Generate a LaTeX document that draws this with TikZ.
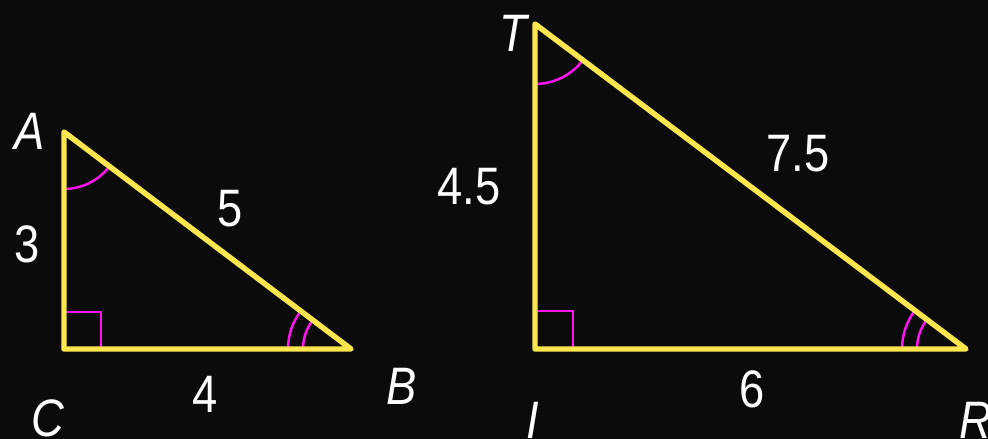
\documentclass[tikz,border=0pt]{standalone}
\usepackage{fontspec}
\setmainfont{Liberation Sans}[FakeStretch=0.86]
\usetikzlibrary{angles,calc}
\definecolor{bgc}{HTML}{0B0B0B}
\definecolor{triy}{HTML}{FBE64E}
\definecolor{magc}{HTML}{FF14F0}
\tikzset{
  side/.style={draw=triy, line width=3.1pt, line join=round, line cap=round},
  rtmark/.style={draw=magc, line width=1.4pt},
  angmark/.style={draw=magc, line width=1.4pt},
  lbl/.style={text=white, anchor=base, inner sep=0pt, font=\fontsize{30}{36}\selectfont},
  vlbl/.style={lbl, font=\fontsize{30}{36}\selectfont\itshape}
}
\begin{document}
\begin{tikzpicture}[x=0.02cm, y=0.02cm]
\fill[bgc] (0,0) rectangle (988,439);
\useasboundingbox (0,0) rectangle (988,439);
% triangle ABC
\coordinate (A) at (64,307);
\coordinate (C) at (64,90);
\coordinate (B) at (351,90);
% triangle TIR
\coordinate (T) at (535,415);
\coordinate (I) at (535,90);
\coordinate (R) at (966,90);
% angle marks
\pic[angmark, angle radius=1.14cm] {angle=C--A--B};
\pic[angmark, angle radius=1.26cm] {angle=A--B--C};
\pic[angmark, angle radius=0.96cm] {angle=A--B--C};
\draw[rtmark] ($(C)+(0,37)$) -| ($(C)+(37,0)$);
\pic[angmark, angle radius=1.2cm] {angle=I--T--R};
\pic[angmark, angle radius=1.28cm] {angle=T--R--I};
\pic[angmark, angle radius=0.98cm] {angle=T--R--I};
\draw[rtmark] ($(I)+(0,38)$) -| ($(I)+(38,0)$);
% sides
\draw[side] (A) -- (C) -- (B) -- cycle;
\draw[side] (T) -- (I) -- (R) -- cycle;
% labels
\node[vlbl] (lA) at (30,289) {A};
\node[vlbl] (lC) at (48,2) {C};
\node[vlbl] (lB) at (402,34) {B};
\node[lbl] (l3) at (27,176) {3};
\node[lbl] (l5) at (230,212) {5};
\node[lbl] (l4) at (205,26) {4};
\node[vlbl] (lT) at (513,387) {T};
\node[vlbl] (lI) at (533,0) {I};
\node[vlbl] (lR) at (976,0) {R};
\node[lbl] (l45) at (469,234) {4.5};
\node[lbl] (l75) at (798,267) {7.5};
\node[lbl] (l6) at (752,31) {6};
\end{tikzpicture}
\end{document}
